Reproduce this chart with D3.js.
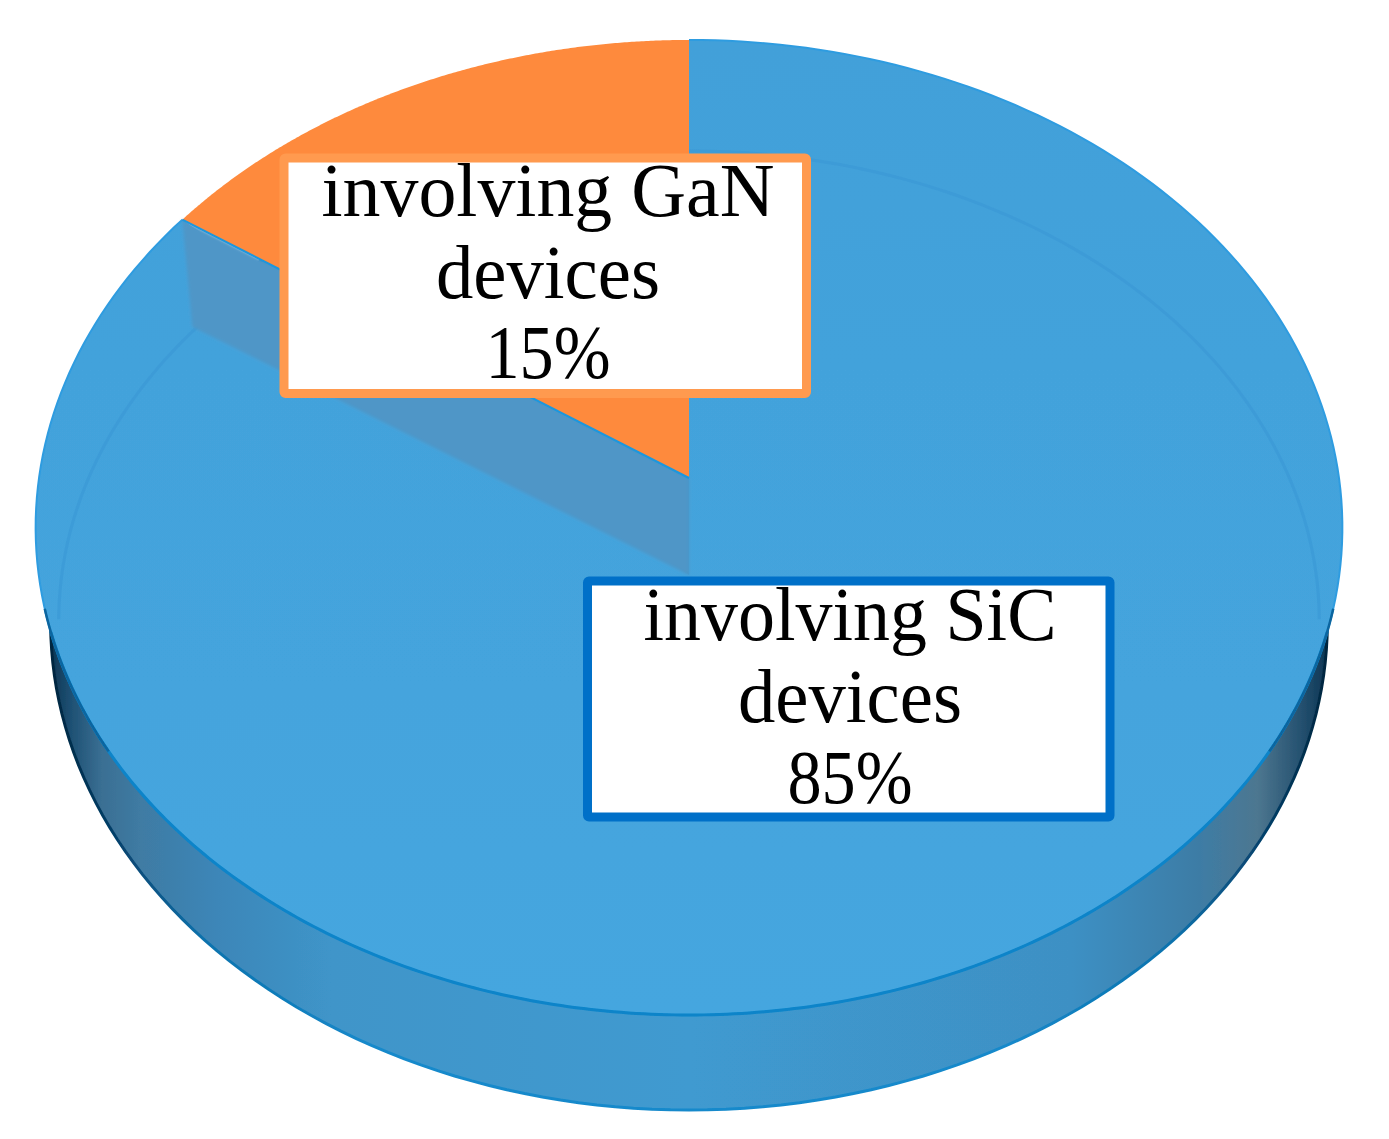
<!DOCTYPE html>
<html>
<head>
<meta charset="utf-8">
<script src="https://cdn.jsdelivr.net/npm/d3@7"></script>
<style>
  html, body { margin: 0; padding: 0; background: #fff; }
  svg { display: block; }
  text { font-family: "Liberation Serif", serif; fill: #000; }
</style>
</head>
<body>
<svg id="chart" width="1389" height="1139"></svg>
<script>
var categories = ['involving GaN devices', 'involving SiC devices'];
var shares = [15, 85];
var labelLines = [['involving GaN', 'devices', '15%'], ['involving SiC', 'devices', '85%']];
var sliceColors = ['#fe8a3c', 'url(#face)'];
var boxColors = ['#ff9a4f', '#0070c8'];

var centerX = 689, centerY = 478;   // where the tilted disc's centre lands on screen
var radiusX = 650, radiusY = 482.5;
var tilt = -0.1015;                 // near edge is drawn larger than the far edge
var depth = 97;
var baseNarrow = 638 / 653;         // underside of the disc is a bit narrower
var farStretch = 1.028;             // the far slice reads a little wider on the tilted disc

var svg = d3.select('#chart');
var defs = svg.append('defs');

function addGradient(id, stops, vertical) {
  var g = defs.append('linearGradient').attr('id', id)
    .attr('x1', 0).attr('y1', 0)
    .attr('x2', vertical ? 0 : 1).attr('y2', vertical ? 1 : 0);
  stops.forEach(function(s) {
    g.append('stop').attr('offset', s[0]).attr('stop-color', s[1]);
  });
}

addGradient('side', [[0, '#0d3654'], [0.015, '#1d4f72'], [0.04, '#3a6f93'], [0.07, '#3f7ba3'],
  [0.13, '#3c86b8'], [0.22, '#3f95c9'], [0.5, '#3f9ad0'], [0.8, '#3e90c4'],
  [0.9, '#3e7ca5'], [0.945, '#4d7790'], [0.98, '#24506f'], [1, '#0d3654']]);
addGradient('sideEdge', [[0, '#02263f'], [0.05, '#06406a'], [0.12, '#0c72ad'], [0.25, '#1589cb'],
  [0.75, '#1589cb'], [0.88, '#0c72ad'], [0.95, '#06406a'], [1, '#02263f']]);
addGradient('face', [[0, '#42a0d9'], [1, '#45a6df']], true);

defs.append('filter').attr('id', 'soft').append('feGaussianBlur').attr('stdDeviation', 0.7);
defs.append('filter').attr('id', 'softer').append('feGaussianBlur').attr('stdDeviation', 1.6);

// angle is clockwise from the far edge, r = 1 on the rim, drop pushes it down
function project(angle, r, drop) {
  var u = r * Math.sin(angle), v = -r * Math.cos(angle);
  var w = 1 + tilt * v;
  return [centerX + radiusX * u / w, centerY + radiusY * v / w + (drop || 0)];
}

function rim(a0, a1, drop) {
  var n = 240;
  return d3.range(n + 1).map(function(i) {
    return project(a0 + (a1 - a0) * i / n, 1, drop);
  });
}

var line = d3.line();
var shape = function(pts) { return line(pts) + 'Z'; };

var start = -2 * Math.PI * shares[0] / d3.sum(shares);
var pie = d3.pie().sort(null).startAngle(start).endAngle(2 * Math.PI + start);
var arcs = pie(shares);
var gan = arcs[0], sic = arcs[1];
gan.startAngle *= farStretch;
sic.endAngle = 2 * Math.PI + gan.startAngle;

var disc = svg.append('g').attr('filter', 'url(#soft)');

// side of the disc
var underside = rim(0, 2 * Math.PI, depth - 2).map(function(p) {
  return [centerX + (p[0] - centerX) * baseNarrow, p[1]];
});
disc.append('path').attr('d', shape(underside))
  .attr('fill', 'url(#side)')
  .attr('stroke', 'url(#sideEdge)').attr('stroke-width', 3);

// SiC slice sits lower, so its apex is dropped by the disc depth
disc.append('path')
  .attr('d', shape(rim(sic.startAngle, sic.endAngle, 0).concat([project(0, 0, depth)])))
  .attr('fill', sliceColors[1]);

// thin rim line all round the face, darker along the near edge
disc.append('path')
  .attr('d', line(rim(sic.startAngle, sic.endAngle, 0)))
  .attr('fill', 'none').attr('stroke', '#2f9ce0').attr('stroke-width', 2);
disc.append('path')
  .attr('d', line(rim(Math.PI * 0.6, Math.PI * 1.4, 0)))
  .attr('fill', 'none').attr('stroke', '#0b84c9').attr('stroke-width', 3);
disc.append('path')
  .attr('d', line(rim(Math.PI * 0.585, Math.PI * 0.68, 0)))
  .attr('fill', 'none').attr('stroke', '#07659f').attr('stroke-width', 2.5);
disc.append('path')
  .attr('d', line(rim(Math.PI * 1.32, Math.PI * 1.415, 0)))
  .attr('fill', 'none').attr('stroke', '#07659f').attr('stroke-width', 2.5);

// faint bevel inside the face
disc.append('path')
  .attr('d', line(d3.range(0, 201).map(function(i) {
    var a = -Math.PI * 0.53 + i / 200 * Math.PI * 1.06;
    return project(a, 0.965, depth);
  })))
  .attr('fill', 'none').attr('stroke', '#3b99d5').attr('stroke-width', 3).attr('opacity', 0.7);

// wall between the two slices
var rimPoint = project(gan.startAngle, 1, 0);
var apex = project(0, 0, 0);
var wallLeft = [rimPoint[0] + 10, rimPoint[1] + depth + 10];
disc.append('path')
  .attr('d', shape([apex, rimPoint, wallLeft, [apex[0], apex[1] + depth]]))
  .attr('fill', '#5096c7').attr('filter', 'url(#softer)');

// GaN slice
disc.append('path')
  .attr('d', shape(rim(gan.startAngle, gan.endAngle, 0).concat([apex])))
  .attr('fill', sliceColors[0]);
disc.append('path')
  .attr('d', line([rimPoint, apex]))
  .attr('fill', 'none').attr('stroke', '#1b97de').attr('stroke-width', 2);

// label boxes
var boxX = [284, 587.5], boxY = [158, 581];
var boxW = 522.5, boxH = [235.5, 236];
var textX = [548, 850];
var baselines = [[216, 298, 378], [640, 722, 803]];
var lineWidths = [[453, 224, 125], [413, 224, 125]];
var fontSize = 76;

var labels = svg.selectAll('g.label').data(categories).enter().append('g')
  .attr('class', 'label');
labels.append('rect')
  .attr('x', function(d, i) { return boxX[i]; })
  .attr('y', function(d, i) { return boxY[i]; })
  .attr('width', boxW)
  .attr('height', function(d, i) { return boxH[i]; })
  .attr('rx', 1.5)
  .attr('fill', '#fff')
  .attr('stroke', function(d, i) { return boxColors[i]; })
  .attr('stroke-width', 9);
labels.each(function(d, i) {
  d3.select(this).selectAll('text').data(labelLines[i]).enter().append('text')
    .attr('x', textX[i])
    .attr('y', function(t, j) { return baselines[i][j]; })
    .attr('text-anchor', 'middle')
    .attr('font-size', fontSize)
    .attr('textLength', function(t, j) { return lineWidths[i][j]; })
    .attr('lengthAdjust', 'spacingAndGlyphs')
    .text(function(t) { return t; });
});
</script>
</body>
</html>
